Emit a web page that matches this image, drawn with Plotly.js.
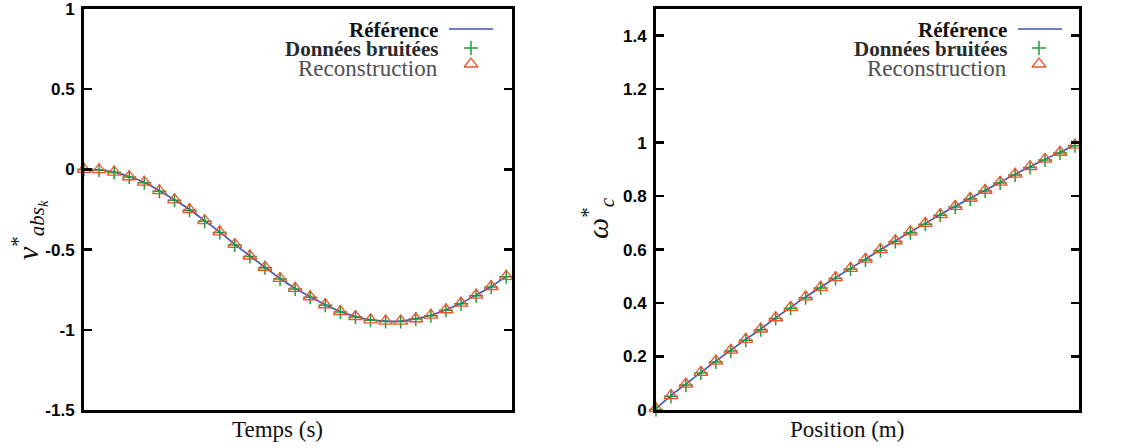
<!DOCTYPE html>
<html><head><meta charset="utf-8">
<script src="https://cdn.plot.ly/plotly-3.0.1.min.js"></script>
<style>html,body{margin:0;padding:0;background:#fff;}#g{width:1125px;height:448px;}</style>
</head><body><div id="g"></div>
<script>
// ---- data ----
const idx = [0,1,2,3,4,5,6,7,8,9,10,11,12,13,14,15,16,17,18,19,20,21,22,23,24,25,26,27,28];
const vRef = [0,-0.002,-0.017,-0.046,-0.08,-0.133,-0.19,-0.25,-0.32,-0.39,-0.468,-0.54,-0.61,-0.68,-0.742,-0.794,-0.844,-0.886,-0.917,-0.938,-0.946,-0.946,-0.931,-0.909,-0.875,-0.834,-0.784,-0.73,-0.667];
const vNoisy = [0,-0.004,-0.019,-0.048,-0.083,-0.136,-0.193,-0.254,-0.323,-0.393,-0.471,-0.543,-0.613,-0.683,-0.745,-0.797,-0.847,-0.889,-0.92,-0.941,-0.949,-0.949,-0.933,-0.912,-0.878,-0.837,-0.787,-0.733,-0.67];
const vRec = [0,-0.002,-0.017,-0.046,-0.08,-0.133,-0.19,-0.25,-0.32,-0.39,-0.468,-0.54,-0.61,-0.68,-0.742,-0.794,-0.844,-0.886,-0.917,-0.938,-0.946,-0.946,-0.931,-0.909,-0.875,-0.834,-0.784,-0.73,-0.667];
const wRef = [0.005,0.054,0.097,0.141,0.183,0.224,0.264,0.303,0.345,0.384,0.423,0.459,0.495,0.530,0.564,0.600,0.633,0.666,0.698,0.731,0.762,0.792,0.822,0.852,0.882,0.910,0.938,0.964,0.991];
const wNoisy = [0.002,0.051,0.094,0.138,0.18,0.221,0.261,0.3,0.342,0.381,0.42,0.456,0.492,0.527,0.561,0.597,0.63,0.663,0.695,0.728,0.759,0.789,0.819,0.849,0.879,0.907,0.935,0.961,0.988];
const wRec = [0.005,0.054,0.097,0.141,0.183,0.224,0.264,0.303,0.345,0.384,0.423,0.459,0.495,0.530,0.564,0.600,0.633,0.666,0.698,0.731,0.762,0.792,0.822,0.852,0.882,0.910,0.938,0.964,0.991];
const leftTickVals = [1,0.5,0,-0.5,-1,-1.5];
const leftTickText = ["1","0.5","0","-0.5","-1","-1.5"];
const rightTickVals = [0,0.2,0.4,0.6,0.8,1,1.2,1.4];
const rightTickText = ["0","0.2","0.4","0.6","0.8","1","1.2","1.4"];
const legendNames = ["Référence","Données bruitées","Reconstruction"];

// ---- styles ----
const W=1125,H=448;
const cLine='#3a56b0', cPlus='#1f9a3c', cTri='#f2542a';
const serif='"Liberation Serif", serif';
const px=x=>x/W, py=y=>1-y/H;
const plusM={symbol:'cross-thin',size:10,line:{color:cPlus,width:1.5}};
const triM={symbol:'triangle-up-open',size:12,color:cTri,line:{color:cTri,width:1.3}};

function dataTraces(x,yr,yn,yc,xa,ya){
  return [
    {x:x,y:yr,xaxis:xa,yaxis:ya,mode:'lines',line:{color:cLine,width:1.6,shape:'spline'},showlegend:false,hoverinfo:'skip'},
    {x:x,y:yn,xaxis:xa,yaxis:ya,mode:'markers',marker:plusM,cliponaxis:false,showlegend:false},
    {x:x,y:yc,xaxis:xa,yaxis:ya,mode:'markers',marker:triM,cliponaxis:false,showlegend:false}
  ];
}
// legend samples on a pixel overlay axis
function legendTraces(lineX0,lineX1,symX,y0){
  return [
    {x:[lineX0,lineX1],y:[y0,y0],xaxis:'x3',yaxis:'y3',mode:'lines',line:{color:cLine,width:1.6},showlegend:false,hoverinfo:'skip'},
    {x:[symX],y:[y0+19],xaxis:'x3',yaxis:'y3',mode:'markers',marker:plusM,showlegend:false,hoverinfo:'skip'},
    {x:[symX],y:[y0+35],xaxis:'x3',yaxis:'y3',mode:'markers',marker:triM,showlegend:false,hoverinfo:'skip'}
  ];
}
const traces = [].concat(
  dataTraces(idx,vRef,vNoisy,vRec,'x','y'),
  dataTraces(idx,wRef,wNoisy,wRec,'x2','y2'),
  legendTraces(449,493,471,29),
  legendTraces(1018,1062,1039,29)
);

function legendAnn(xr,y0){
  return [
    {text:legendNames[0],x:px(xr),y:py(y0),font:{family:serif,size:21,color:'#111',weight:'bold'}},
    {text:legendNames[1],x:px(xr),y:py(y0+19),font:{family:serif,size:21,color:'#2a2a2a',weight:'bold'}},
    {text:legendNames[2],x:px(xr),y:py(y0+38),font:{family:serif,size:23,color:'#505050'}}
  ].map(a=>Object.assign(a,{xref:'paper',yref:'paper',xanchor:'right',yanchor:'middle',showarrow:false}));
}
const tickFont={family:'"Liberation Sans", Arial, sans-serif',size:17,color:'#000',weight:'bold'};
function yax(){
  return {domain:[0.0848,0.98],ticks:'inside',ticklen:8,tickwidth:2.5,tickcolor:'#000',ticklabeloverflow:'allow',
    showline:true,linewidth:3,linecolor:'#000',mirror:'allticks',showgrid:false,zeroline:false,tickfont:tickFont,ticklabelstandoff:3};
}
function xax(dom,range){
  return {domain:dom,range:range,showticklabels:false,ticks:'',showline:true,linewidth:3,linecolor:'#000',mirror:true,showgrid:false,zeroline:false};
}
const layout={
  width:W,height:H,margin:{l:0,r:0,t:0,b:0},paper_bgcolor:'#fff',plot_bgcolor:'rgba(0,0,0,0)',showlegend:false,
  xaxis:Object.assign(xax([84/W,512/W],[0,28.38]),{anchor:'y'}),
  yaxis:Object.assign(yax(),{anchor:'x',range:[-1.5,1],tickvals:leftTickVals,ticktext:leftTickText}),
  xaxis2:Object.assign(xax([656/W,1079/W],[0,28.27]),{anchor:'y2'}),
  yaxis2:Object.assign(yax(),{anchor:'x2',range:[0,1.5],tickvals:rightTickVals,ticktext:rightTickText}),
  xaxis3:{domain:[0,1],range:[0,W],visible:false,fixedrange:true,anchor:'y3',showgrid:false,zeroline:false},
  yaxis3:{domain:[0,1],range:[H,0],visible:false,fixedrange:true,anchor:'x3',showgrid:false,zeroline:false},
  annotations:[].concat(
    legendAnn(440,30), legendAnn(1009,30),
    [
      {text:'Temps (s)',x:px(277),y:py(429),font:{family:serif,size:23,color:'#111'}},
      {text:'Position (m)',x:px(847),y:py(429),font:{family:serif,size:23,color:'#111'}},
      {text:'<i>v</i><sup>*</sup><sub><i>abs<sub>k</sub></i></sub>',x:px(29),y:py(230),textangle:-90,font:{family:serif,size:30,color:'#111'}},
      {text:'<i>ω</i><sup>*</sup><sub><i>c</i></sub>',x:px(598),y:py(218),textangle:-90,font:{family:serif,size:30,color:'#111'}}
    ].map(a=>Object.assign(a,{xref:'paper',yref:'paper',xanchor:'center',yanchor:'middle',showarrow:false}))
  )
};
Plotly.newPlot('g',traces,layout,{staticPlot:true});
</script></body></html>
